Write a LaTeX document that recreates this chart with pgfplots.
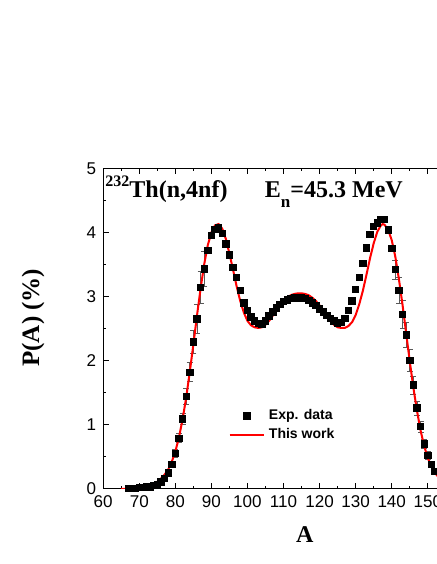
\documentclass[border=0pt]{standalone}
\usepackage{fontspec}
\setmainfont{Liberation Serif}
\setsansfont{Liberation Sans}
\usepackage{pgfplots}
\pgfplotsset{compat=1.18}
\usepackage{pgfplotstable}

% experimental yields, P(A) in %
\pgfplotstableread{
A P
67 0.01
68 0.01
69 0.01
70 0.02
71 0.02
72 0.03
73 0.03
74 0.05
75 0.07
76 0.11
77 0.16
78 0.25
79 0.38
80 0.55
81 0.79
82 1.09
83 1.44
84 1.82
85 2.29
86 2.65
87 3.14
88 3.43
89 3.72
90 3.95
91 4.05
92 4.08
93 3.98
94 3.82
95 3.65
96 3.45
97 3.30
98 3.10
99 2.90
100 2.78
101 2.68
102 2.62
103 2.58
104 2.57
105 2.62
106 2.70
107 2.76
108 2.82
109 2.88
110 2.92
111 2.95
112 2.97
113 2.98
114 2.98
115 2.98
116 2.97
117 2.94
118 2.90
119 2.86
120 2.81
121 2.76
122 2.71
123 2.66
124 2.62
125 2.59
126 2.60
127 2.66
128 2.78
129 2.93
130 3.11
131 3.30
132 3.52
133 3.76
134 3.97
135 4.09
136 4.15
137 4.20
138 4.20
139 4.04
140 3.75
141 3.42
142 3.10
143 2.72
144 2.40
145 2.00
146 1.62
147 1.26
148 0.97
149 0.70
150 0.52
151 0.38
152 0.27
153 0.18
}\expdata

% points that carry visible error bars
\pgfplotstableread{
A P e
76 0.11 0.03
77 0.16 0.03
78 0.25 0.04
79 0.38 0.05
80 0.55 0.06
81 0.79 0.07
82 1.09 0.09
83 1.44 0.12
84 1.82 0.15
85 2.29 0.18
86 2.65 0.22
87 3.14 0.25
88 3.43 0.27
141 3.42 0.15
142 3.10 0.20
143 2.72 0.22
144 2.40 0.20
145 2.00 0.17
146 1.62 0.14
147 1.26 0.11
148 0.97 0.09
149 0.70 0.07
150 0.52 0.06
151 0.38 0.05
152 0.27 0.04
}\experr

% calculated curve
\pgfplotstableread{
A P
65 0.00
66 0.00
67 0.01
68 0.01
69 0.02
70 0.02
71 0.03
72 0.04
73 0.06
74 0.08
75 0.11
76 0.16
77 0.22
78 0.30
79 0.42
80 0.58
81 0.80
82 1.08
83 1.42
84 1.82
85 2.25
86 2.70
87 3.12
88 3.50
89 3.80
90 4.00
91 4.11
92 4.13
93 4.06
94 3.90
95 3.67
96 3.42
97 3.16
98 2.93
99 2.75
100 2.62
101 2.55
102 2.52
103 2.51
104 2.52
105 2.56
106 2.62
107 2.70
108 2.78
109 2.86
110 2.93
111 2.98
112 3.02
113 3.04
114 3.05
115 3.05
116 3.04
117 3.02
118 2.98
119 2.93
120 2.86
121 2.78
122 2.70
123 2.62
124 2.56
125 2.52
126 2.51
127 2.51
128 2.54
129 2.60
130 2.71
131 2.88
132 3.09
133 3.34
134 3.60
135 3.83
136 4.01
137 4.11
137.5 4.13
138 4.12
139 4.04
140 3.88
141 3.62
142 3.27
143 2.87
144 2.43
145 1.99
146 1.58
147 1.22
148 0.91
149 0.67
150 0.48
151 0.35
152 0.25
153 0.18
154 0.13
}\thiswork

\begin{document}
\begin{tikzpicture}
\begin{axis}[
    scale only axis,
    width=166.5pt, height=160pt,
    xmin=60, xmax=152.5,
    ymin=0, ymax=5,
    xtick={60,70,...,150},
    ytick={0,1,...,5},
    minor x tick num=1,
    minor y tick num=1,
    axis y line*=left,
    tick align=inside,
    major tick length=2.8pt,
    minor tick length=1.6pt,
    tick style={black, line width=0.5pt},
    axis line style={line width=0.6pt},
    ticklabel style={font=\sffamily\fontsize{8.5}{10}\selectfont},
    /pgf/number format/assume math mode=true,
    legend style={at={(axis cs:94.7,1.31)}, anchor=north west,
        draw=none, fill=none, inner sep=0pt, row sep=-1pt,
        font=\sffamily\bfseries\fontsize{7}{8}\selectfont},
    legend cell align=left,
]
\coordinate (sw) at (rel axis cs:0,0);
\coordinate (ne) at (rel axis cs:1,1);
\coordinate (xl) at (rel axis cs:0.604,0);
\coordinate (yl) at (rel axis cs:0,0.534);

\addplot[forget plot, draw=none, mark=none,
    error bars/.cd, y dir=both, y explicit,
    error bar style={black!65, line width=0.4pt},
    error mark options={black!65, rotate=90, mark size=1.5pt, line width=0.4pt}]
    table[x=A, y=P, y error=e] {\experr};

\addplot[only marks, mark=square*, mark size=1.6pt, black] table[x=A, y=P] {\expdata};
\addlegendentry{Exp. data}

\addplot[red, line width=1pt, mark=none] table[x=A, y=P] {\thiswork};
\addlegendentry{This work}

\node[anchor=base west, inner sep=0pt, font=\bfseries\fontsize{12}{14}\selectfont]
    at (axis cs:60.5,4.55) {\raisebox{5.5pt}{\fontsize{8}{9}\selectfont 232}Th(n,4nf)};
\node[anchor=base west, inner sep=0pt, font=\bfseries\fontsize{12}{14}\selectfont]
    at (axis cs:104.7,4.55) {E\raisebox{-5pt}{\fontsize{8.5}{9}\selectfont n}=45.3 MeV};
\end{axis}
\node[font=\bfseries\fontsize{12}{14}\selectfont] at ([yshift=-23pt]xl) {A};
\node[rotate=90, font=\bfseries\fontsize{12.5}{14}\selectfont] at ([xshift=-35pt]yl) {P(A) (\%)};
\pgfresetboundingbox
\path[use as bounding box] ([xshift=-51.5pt,yshift=-37.5pt]sw) rectangle ([yshift=84pt]ne);
\end{tikzpicture}
\end{document}
